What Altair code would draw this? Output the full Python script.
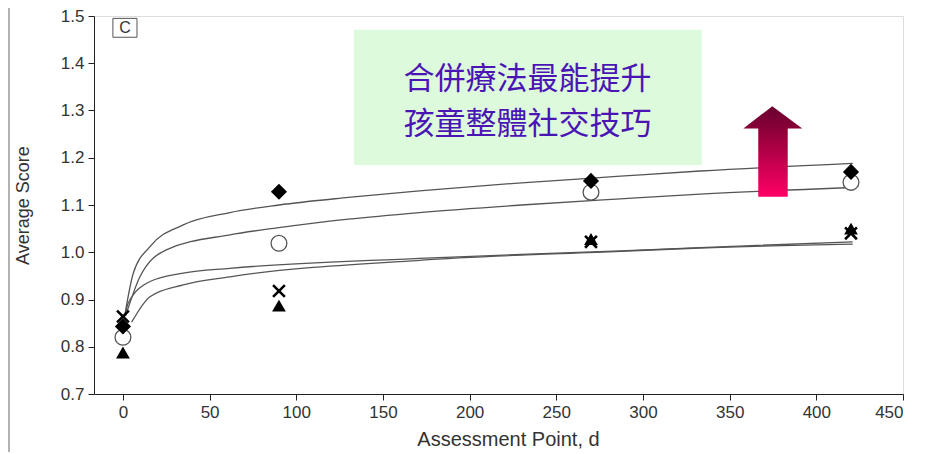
import altair as alt
import pandas as pd

# ---- observed points ----
days = [0, 90, 270, 420]
diamond_vals = [0.843, 1.128, 1.151, 1.170]
circle_vals = [0.820, 1.019, 1.127, 1.148]
cross_vals = [0.864, 0.918, 1.022, 1.040]
triangle_vals = [0.788, 0.887, 1.028, 1.050]

# ---- fitted curves ----
curve_a_x = [1, 6, 15.6, 34.8, 61.7, 90, 130, 171, 230, 287, 333, 421]
curve_a_y = [0.865, 0.956, 1.012, 1.058, 1.084, 1.100, 1.116, 1.130, 1.147, 1.161, 1.172, 1.188]
curve_b_x = [1.5, 9.8, 25, 61.7, 90, 130, 171, 230, 287, 333, 421]
curve_b_y = [0.865, 0.948, 1.005, 1.037, 1.052, 1.070, 1.084, 1.100, 1.113, 1.123, 1.137]
curve_c_x = [1.5, 3, 15.6, 34.8, 61.7, 171, 287, 333, 421]
curve_c_y = [0.872, 0.892, 0.938, 0.956, 0.966, 0.987, 1.003, 1.010, 1.022]
curve_d_x = [5, 15.6, 34.8, 61.7, 171, 287, 333, 421]
curve_d_y = [0.852, 0.906, 0.931, 0.948, 0.983, 1.002, 1.009, 1.017]

x_ticks = [0, 50, 100, 150, 200, 250, 300, 350, 400, 450]
y_ticks = [0.7, 0.8, 0.9, 1.0, 1.1, 1.2, 1.3, 1.4, 1.5]

note_lines = ["合併療法最能提升", "孩童整體社交技巧"]
panel_label = "C"

# annotation geometry (data units)
note_box = {"x": 133.3, "x2": 333.9, "y": 1.471, "y2": 1.1845}
note_text_x = 233.4
note_text_y = [1.3652, 1.2701]
label_box = {"x": -5.8, "x2": 8.1, "y": 1.495, "y2": 1.455}
label_pos = {"x": 1.2, "y": 1.474}
head_x = [357.9, 374.6, 391.9]
head_top = [1.262, 1.309, 1.262]
head_base = 1.262
shaft = {"x": 366.5, "x2": 383.5, "y": 1.263, "y2": 1.1175}

FONT = "Liberation Sans, Arial, sans-serif"

xs = alt.Scale(domain=[-16.7, 450], nice=False, zero=False)
ys = alt.Scale(domain=[0.7, 1.5], nice=False, zero=False)

X_AX = alt.Axis(values=x_ticks, title="Assessment Point, d", grid=False,
                domainColor="#222", tickColor="#222", tickSize=6, labelFontSize=17,
                labelColor="#333", labelFont=FONT, titleFont=FONT, titleFontSize=20,
                titleFontWeight="normal", titleColor="#333", labelPadding=4, titlePadding=9,
                titleX=414, titleAlign="center")
Y_AX = alt.Axis(values=y_ticks, format=".1f", title="Average Score", grid=False,
                domainColor="#222", tickColor="#222", tickSize=6, labelFontSize=17,
                labelColor="#333", labelFont=FONT, titleFont=FONT, titleFontSize=18,
                titleFontWeight="normal", titleColor="#333", labelPadding=4, titlePadding=28)

layers = []

# curves
for cx, cy in [(curve_a_x, curve_a_y), (curve_b_x, curve_b_y),
               (curve_c_x, curve_c_y), (curve_d_x, curve_d_y)]:
    df = pd.DataFrame({"x": cx, "y": cy})
    layers.append(
        alt.Chart(df).mark_line(color="#555", strokeWidth=1.3, interpolate="monotone").encode(
            x=alt.X("x:Q", scale=xs, axis=X_AX),
            y=alt.Y("y:Q", scale=ys, axis=Y_AX),
        )
    )

def pts(vals, **kw):
    df = pd.DataFrame({"x": days, "y": vals})
    return alt.Chart(df).mark_point(**kw).encode(
        x=alt.X("x:Q", scale=xs), y=alt.Y("y:Q", scale=ys))

layers.append(pts(circle_vals, shape="circle", size=250, filled=True, fill="white",
                  stroke="#555", strokeWidth=1.3, opacity=1))
layers.append(pts(triangle_vals, shape="triangle-up", size=190, filled=True, color="black", opacity=1))
layers.append(pts(cross_vals, shape="M-1,-1L1,1M1,-1L-1,1", size=140, filled=False,
                  stroke="black", strokeWidth=2.6, opacity=1))
layers.append(pts(diamond_vals, shape="diamond", size=260, filled=True, color="black", opacity=1))

# note box
nb = pd.DataFrame([note_box])
layers.append(alt.Chart(nb).mark_rect(color="#ddfadd").encode(
    x=alt.X("x:Q", scale=xs), x2="x2:Q", y=alt.Y("y:Q", scale=ys), y2="y2:Q"))
nt = pd.DataFrame({"x": [note_text_x] * 2, "y": note_text_y, "t": note_lines})
layers.append(alt.Chart(nt).mark_text(font="Noto Sans CJK TC", fontSize=31, color="#4b14b4",
                                      baseline="middle", align="center").encode(
    x=alt.X("x:Q", scale=xs), y=alt.Y("y:Q", scale=ys), text="t:N"))

# panel label
lb = pd.DataFrame([label_box])
layers.append(alt.Chart(lb).mark_rect(fill="white", stroke="#555", strokeWidth=1).encode(
    x=alt.X("x:Q", scale=xs), x2="x2:Q", y=alt.Y("y:Q", scale=ys), y2="y2:Q"))
lt = pd.DataFrame([{**label_pos, "t": panel_label}])
layers.append(alt.Chart(lt).mark_text(font=FONT, fontSize=16, color="#333", baseline="middle").encode(
    x=alt.X("x:Q", scale=xs), y=alt.Y("y:Q", scale=ys), text="t:N"))

# arrow: shaft + head
shaft_grad = alt.Gradient(gradient="linear",
                          stops=[alt.GradientStop(color="#8a0036", offset=0),
                                 alt.GradientStop(color="#ff0066", offset=1)],
                          x1=0, x2=0, y1=0, y2=1)
head_grad = alt.Gradient(gradient="linear",
                         stops=[alt.GradientStop(color="#6a0030", offset=0),
                                alt.GradientStop(color="#880036", offset=1)],
                         x1=0, x2=0, y1=0, y2=1)
sd = pd.DataFrame([shaft])
layers.append(alt.Chart(sd).mark_rect(color=shaft_grad, opacity=1).encode(
    x=alt.X("x:Q", scale=xs), x2="x2:Q", y=alt.Y("y:Q", scale=ys), y2="y2:Q"))
hd = pd.DataFrame({"x": head_x, "y": head_top, "y2": [head_base] * 3})
layers.append(alt.Chart(hd).mark_area(color=head_grad, interpolate="linear", opacity=1).encode(
    x=alt.X("x:Q", scale=xs), y=alt.Y("y:Q", scale=ys, stack=None), y2="y2:Q"))

# left frame line of the picture
layers.append(alt.Chart(pd.DataFrame({"a": [0]})).mark_rule(color="#999", strokeWidth=1.5).encode(
    x=alt.value(-85), y=alt.value(-8), y2=alt.value(436)))

chart = alt.layer(*layers).properties(
    width=809, height=378,
    autosize=alt.AutoSizeParams(type="none"),
    padding={"left": 86, "top": 8, "right": 15, "bottom": 58},
).configure_view(stroke=None).configure(background="white")

chart.save("out.html", embed_options={"renderer": "svg", "actions": False})
